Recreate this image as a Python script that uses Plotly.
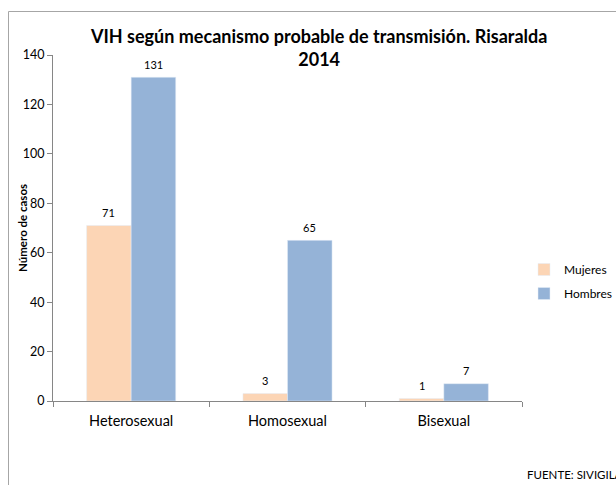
import plotly.graph_objects as go

categories = ["Heterosexual", "Homosexual", "Bisexual"]
mujeres = [71, 3, 1]
hombres = [131, 65, 7]
y_ticks = [0, 20, 40, 60, 80, 100, 120, 140]

W, H = 616, 485
L, R, T, B = 53, 94, 55, 84
pw, ph = W - L - R, H - T - B

def px_x(p):
    return (p - L) / pw

def px_y(p):
    return (H - B - p) / ph

FONT = "Lato"
BARGAP = 0.43

fig = go.Figure()
fig.add_trace(go.Bar(name="Mujeres", x=categories, y=mujeres, marker_color="#FCD5B5",
                     legendgroup="m"))
fig.add_trace(go.Bar(name="Hombres", x=categories, y=hombres, marker_color="#95B3D7",
                     legendgroup="h"))

# value labels above each bar (positioned through the category axis)
half = (1 - BARGAP) / 4
for i, cat in enumerate(categories):
    for vals, dx in ((mujeres, -half), (hombres, half)):
        fig.add_annotation(x=i + dx, y=vals[i], text=str(vals[i]), showarrow=False,
                           xref="x", yref="y", yanchor="middle", yshift=13,
                           font=dict(size=11, family=FONT, color="#000000"))

fig.update_layout(
    width=W, height=H,
    margin=dict(l=L, r=R, t=T, b=B, autoexpand=False),
    paper_bgcolor="white", plot_bgcolor="white",
    barmode="group", bargap=BARGAP, bargroupgap=0,
    font=dict(family=FONT, color="#000000"),
    showlegend=True,
    legend=dict(x=px_x(524), y=px_y(255), xanchor="left", yanchor="top",
                font=dict(size=12, family=FONT), tracegroupgap=5, traceorder="grouped",
                itemwidth=30, bgcolor="rgba(0,0,0,0)"),
    xaxis=dict(showline=True, linecolor="#868686", linewidth=1, automargin=False,
               ticks="outside", tickson="boundaries", ticklen=5, tickcolor="#868686",
               ticklabelstandoff=7,
               tickfont=dict(size=14.5, family=FONT), showgrid=False),
    yaxis=dict(range=[0, 140], tickvals=y_ticks, showline=True, linecolor="#868686",
               linewidth=1, ticks="outside", ticklen=5, tickcolor="#868686",
               automargin=False,
               tickfont=dict(size=12.5, family=FONT), showgrid=False, zeroline=False),
)

# y-axis title
fig.add_annotation(text="<b>Número de casos</b>", xref="paper", yref="paper",
                   x=px_x(22), y=px_y(228), textangle=-90, showarrow=False,
                   xanchor="center", yanchor="middle", font=dict(size=11.5, family=FONT))

fig.add_annotation(text="<b>VIH según mecanismo probable de transmisión. Risaralda<br>2014</b>",
                   xref="paper", yref="paper", x=px_x(318), y=px_y(48),
                   xanchor="center", yanchor="middle", showarrow=False,
                   font=dict(size=18, family=FONT), align="center")
fig.add_annotation(text="FUENTE: SIVIGILA", xref="paper", yref="paper",
                   x=px_x(525), y=px_y(474), xanchor="left", yanchor="middle",
                   showarrow=False, font=dict(size=11.5, family=FONT))

# outer chart border (partially visible)
fig.add_shape(type="line", xref="paper", yref="paper", x0=px_x(8.5), x1=px_x(8.5),
              y0=px_y(11.5), y1=px_y(500), line=dict(color="#A6A6A6", width=1))
fig.add_shape(type="line", xref="paper", yref="paper", x0=px_x(8.5), x1=px_x(630),
              y0=px_y(11.5), y1=px_y(11.5), line=dict(color="#A6A6A6", width=1))

fig.write_html("out.html", config={"displayModeBar": False},
               post_script="document.body.style.margin='0';")
